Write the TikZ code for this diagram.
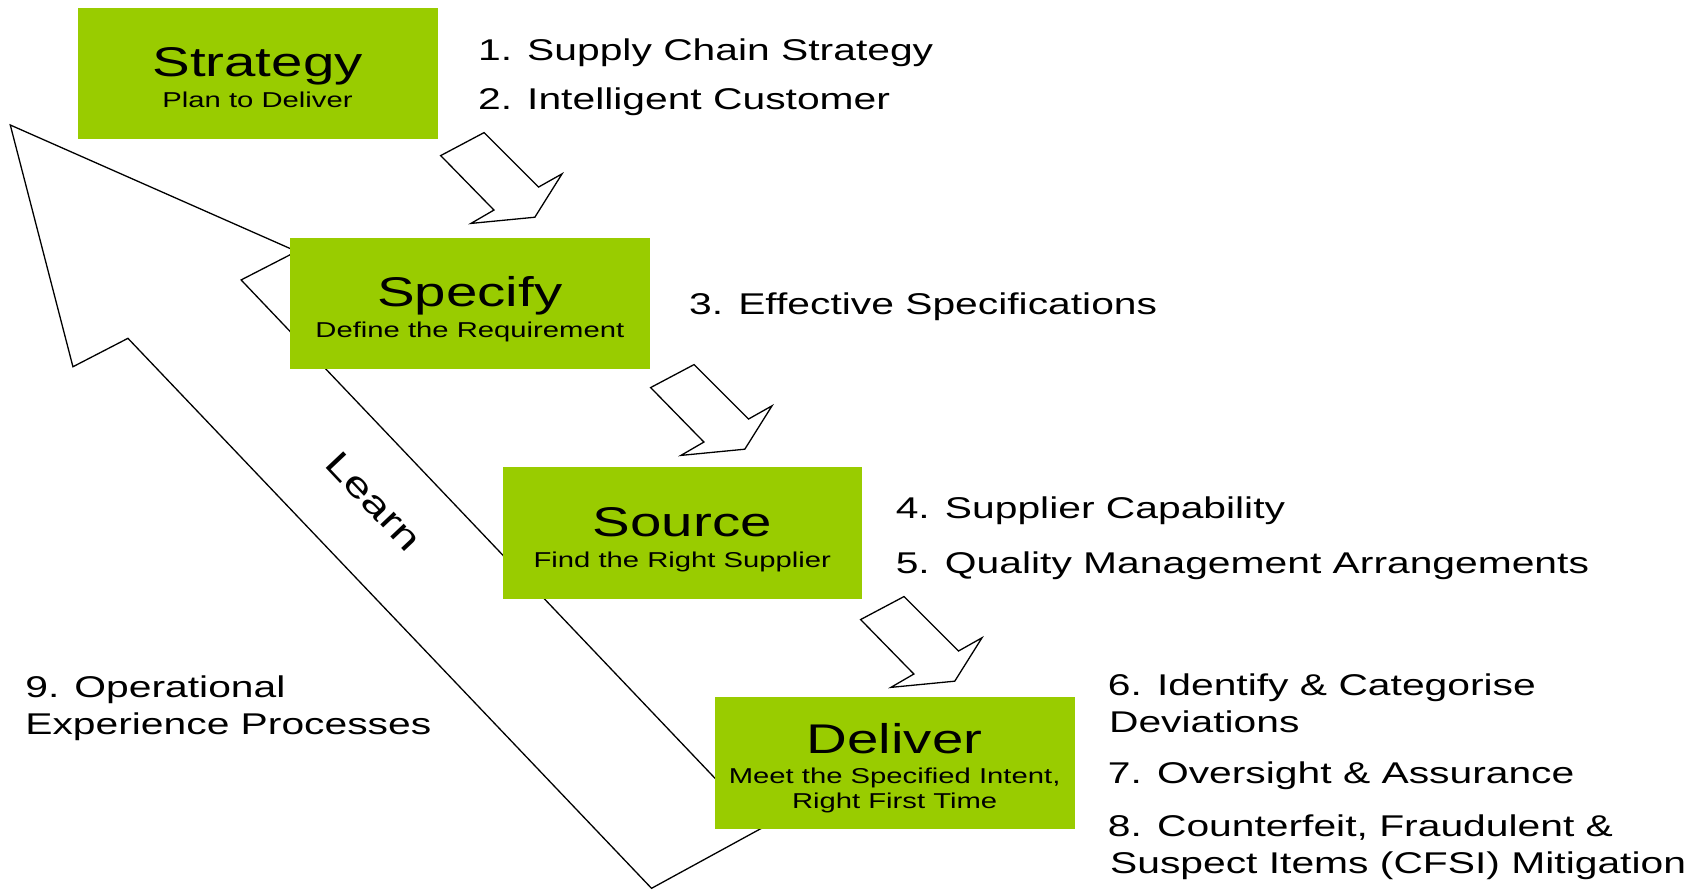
\documentclass[tikz,border=0pt]{standalone}
\usepackage{fontspec}
\setmainfont{Liberation Sans}[FakeStretch=1.36]
\definecolor{boxgreen}{RGB}{153,204,0}
\begin{document}
\begin{tikzpicture}[x=1.0935pt, y=-1.085pt,
  stagebox/.style={rectangle, fill=boxgreen, draw=none, minimum width=359.8pt, minimum height=131.8pt, anchor=north west, inner sep=0pt},
  stagetitle/.style={anchor=base, inner sep=0pt, font=\fontsize{41.5}{48}\selectfont},
  stagesub/.style={anchor=base, inner sep=0pt, font=\fontsize{21.5}{25}\selectfont},
  listitem/.style={anchor=base west, inner sep=0pt, font=\fontsize{30}{36}\selectfont},
  outlinearrow/.style={draw=black, fill=white, line width=1.3pt, line join=miter},
  learntext/.style={inner sep=0pt, font=\fontsize{35}{40}\selectfont}]
\useasboundingbox (0,0) rectangle (1560.1,820.3);

% big "Learn" arrow (behind the boxes)
\draw[outlinearrow] (9.4,115.2) -- (271.3,231.7) -- (220.5,258) -- (697,763)
  -- (595.8,818.7) -- (117,311.8) -- (66.7,338) -- cycle;
\node[learntext, rotate=-46.7] (learn) at (342,462) {Learn};

% stage boxes
\node[stagebox] (strategy) at (71,6.8) {};
\node[stagebox] (specify) at (265.2,218.7) {};
\node[stagebox] (source) at (459.4,430.6) {};
\node[stagebox] (deliver) at (653.6,642.5) {};

\node[stagetitle] (strategyT) at (235.5,70.3) {Strategy};
\node[stagesub] (strategyS) at (235.5,98.8) {Plan to Deliver};
\node[stagetitle] (specifyT) at (429.7,282.2) {Specify};
\node[stagesub] (specifyS) at (429.7,310.7) {Define the Requirement};
\node[stagetitle] (sourceT) at (623.9,494.1) {Source};
\node[stagesub] (sourceS) at (623.9,522.6) {Find the Right Supplier};
\node[stagetitle] (deliverT) at (818.1,694) {Deliver};
\node[stagesub] (deliverS1) at (818.1,722) {Meet the Specified Intent,};
\node[stagesub] (deliverS2) at (818.1,745) {Right First Time};

% small block arrows between stages
\foreach \k in {0,1,2}{
  \draw[outlinearrow, shift={(192*\k,213.8*\k)}]
    (442.7,122.2) -- (403,143.4) -- (451.7,193.6) -- (430.7,205.9)
    -- (489.1,200.2) -- (514,160.2) -- (492.5,172.4) -- cycle;
}

% list texts
\node[listitem] (i1) at (437,55.3) {1. Supply Chain Strategy};
\node[listitem] (i2) at (437,100.8) {2. Intelligent Customer};
\node[listitem] (i3) at (630,290.3) {3. Effective Specifications};
\node[listitem] (i4) at (819,478) {4. Supplier Capability};
\node[listitem] (i5) at (819,529) {5. Quality Management Arrangements};
\node[listitem] (i6a) at (1013,641) {6. Identify \& Categorise};
\node[listitem] (i6b) at (1014,675) {Deviations};
\node[listitem] (i7) at (1013,722) {7. Oversight \& Assurance};
\node[listitem] (i8a) at (1013,771) {8. Counterfeit, Fraudulent \&};
\node[listitem] (i8b) at (1015,805) {Suspect Items (CFSI) Mitigation};
\node[listitem] (i9a) at (23,643) {9. Operational};
\node[listitem] (i9b) at (23,677) {Experience Processes};
\end{tikzpicture}
\end{document}
